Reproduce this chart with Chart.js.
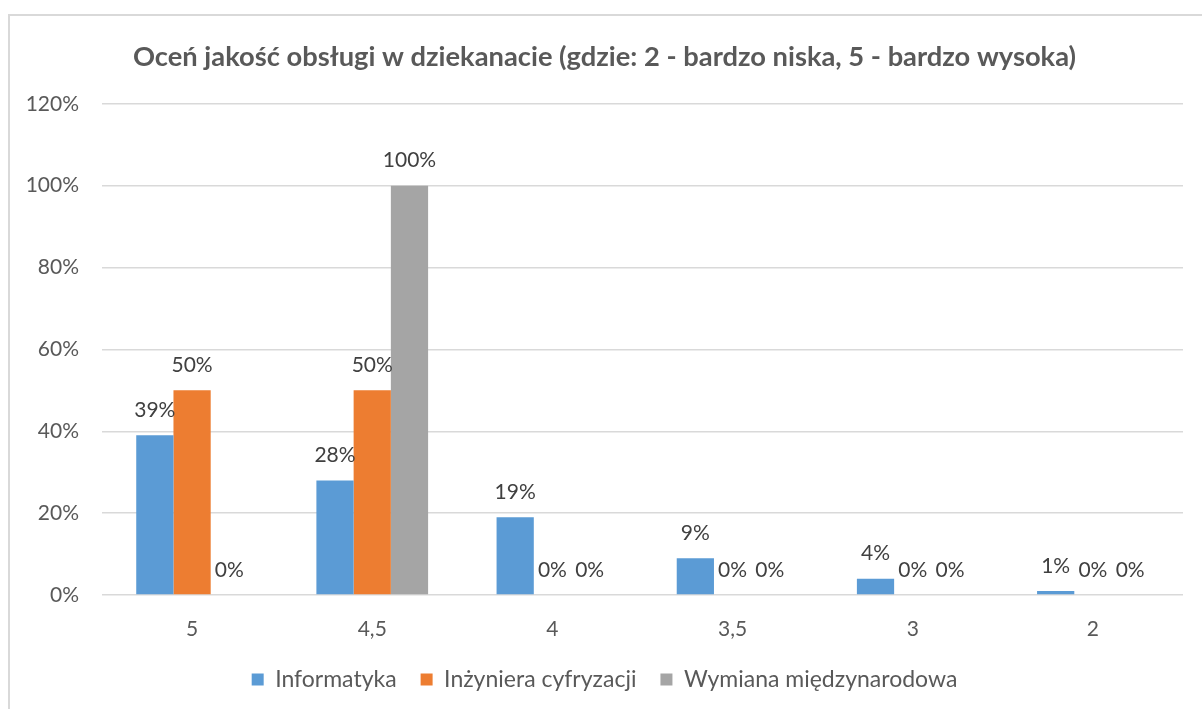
<!DOCTYPE html>
<html>
<head>
<meta charset="utf-8">
<script src="https://cdn.jsdelivr.net/npm/chart.js@4.4.1/dist/chart.umd.min.js"></script>
<style>
  html, body { margin: 0; padding: 0; background: #fff; }
  #wrap { width: 1202px; height: 709px; }
</style>
</head>
<body>
<div id="wrap"><canvas id="chart" width="1202" height="709"></canvas></div>
<script>
// data
const categories = ["5", "4,5", "4", "3,5", "3", "2"];
const informatyka = [39, 28, 19, 9, 4, 1];
const inzyniera = [50, 50, 0, 0, 0, 0];
const wymiana = [0, 100, 0, 0, 0, 0];
const yTicks = [0, 20, 40, 60, 80, 100, 120];

const FONT = "Lato";

// light frame around the whole chart
const frame = {
  id: "frame",
  beforeDraw(chart) {
    const { ctx } = chart;
    ctx.save();
    ctx.fillStyle = "#fff";
    ctx.fillRect(0, 0, chart.width, chart.height);
    ctx.strokeStyle = "#d9d9d9";
    ctx.lineWidth = 2;
    ctx.strokeRect(9, 15, chart.width + 20, chart.height + 20);
    ctx.restore();
  }
};

// value labels above bars
const barLabels = {
  id: "barLabels",
  afterDatasetsDraw(chart) {
    const { ctx } = chart;
    ctx.save();
    ctx.font = "21px " + FONT;
    ctx.fillStyle = "#404040";
    ctx.textAlign = "center";
    ctx.textBaseline = "middle";
    chart.data.datasets.forEach((ds, i) => {
      chart.getDatasetMeta(i).data.forEach((bar, j) => {
        ctx.fillText(ds.data[j] + "%", bar.x, bar.y - 25);
      });
    });
    ctx.restore();
  }
};

new Chart(document.getElementById("chart"), {
  type: "bar",
  data: {
    labels: categories,
    datasets: [
      { label: "Informatyka", data: informatyka, backgroundColor: "#5b9bd5" },
      { label: "Inżyniera cyfryzacji", data: inzyniera, backgroundColor: "#ed7d31" },
      { label: "Wymiana międzynarodowa", data: wymiana, backgroundColor: "#a5a5a5" }
    ]
  },
  options: {
    responsive: false,
    animation: false,
    devicePixelRatio: 1,
    layout: { padding: { left: 26, right: 19, top: 0, bottom: 8 } },
    datasets: {
      bar: { categoryPercentage: 0.62, barPercentage: 1.0, borderWidth: 0 }
    },
    plugins: {
      title: {
        display: true,
        text: "Oceń jakość obsługi w dziekanacie (gdzie: 2 - bardzo niska, 5 - bardzo wysoka)",
        color: "#595959",
        font: { family: FONT, size: 27.3, weight: "bold" },
        padding: { top: 41, bottom: 30 }
      },
      legend: {
        position: "bottom",
        labels: {
          color: "#595959",
          font: { family: FONT, size: 23 },
          boxWidth: 12,
          boxHeight: 12,
          padding: 24
        }
      },
      tooltip: { enabled: false }
    },
    scales: {
      x: {
        grid: { display: false },
        border: { display: false },
        ticks: { color: "#595959", font: { family: FONT, size: 21 }, padding: 14 },
        afterFit: (s) => { s.height = 49; }
      },
      y: {
        min: 0,
        max: 120,
        afterBuildTicks: (s) => { s.ticks = yTicks.map(v => ({ value: v })); },
        afterFit: (s) => { s.width = 76; },
        grid: { color: "#d9d9d9", lineWidth: 1.5, drawTicks: false },
        border: { display: false },
        ticks: {
          color: "#595959",
          font: { family: FONT, size: 21 },
          padding: 23,
          callback: (v) => v + "%"
        }
      }
    }
  },
  plugins: [frame, barLabels]
});
</script>
</body>
</html>
